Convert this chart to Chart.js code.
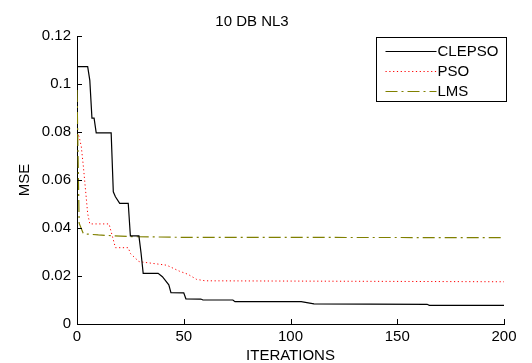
<!DOCTYPE html>
<html>
<head>
<meta charset="utf-8">
<script src="https://cdn.jsdelivr.net/npm/chart.js@4.4.0/dist/chart.umd.min.js"></script>
<style>
  html, body { margin: 0; padding: 0; background: #fff; }
</style>
</head>
<body>
<canvas id="mseChart" width="532" height="363"></canvas>
<script>
// values (iteration -> MSE), vertices of each curve
const clepsoIter = [0, 5, 6, 7, 8, 9, 16, 17, 18, 20, 24, 25, 29, 30, 31, 38, 40, 43, 44, 50, 51, 58, 59, 73, 74, 105, 111, 164, 165, 200];
const clepsoMse = [0.1072, 0.1072, 0.1015, 0.0858, 0.0858, 0.0796, 0.0796, 0.0551, 0.053, 0.0503, 0.0503, 0.0367, 0.0367, 0.0296, 0.0211, 0.0211, 0.0197, 0.0163, 0.0131, 0.013, 0.0105, 0.0104, 0.01, 0.01, 0.0093, 0.0093, 0.0084, 0.0082, 0.0078, 0.0078];

const psoIter = [0, 1, 2, 3, 4, 5, 6, 15, 18, 24, 25, 29, 42, 48, 52, 56, 60, 200];
const psoMse = [0.08, 0.078, 0.074, 0.0655, 0.0558, 0.046, 0.0417, 0.0417, 0.0318, 0.0318, 0.0294, 0.026, 0.0245, 0.022, 0.0207, 0.0186, 0.018, 0.0176];

const lmsIter = [0, 1, 3, 10, 25, 50, 200];
const lmsMse = [0.0975, 0.042, 0.0376, 0.0371, 0.0364, 0.0361, 0.036];

const seriesNames = ["CLEPSO", "PSO", "LMS"];
const xTicks = [0, 50, 100, 150, 200];
const yTicks = [0, 0.02, 0.04, 0.06, 0.08, 0.1, 0.12];

const FONT = "'Liberation Sans', Arial, sans-serif";

function toPoints(xs, ys) {
  return xs.map((x, i) => ({ x: x, y: ys[i] }));
}

// matlab style: ticks pointing into the axes, legend box top right
const matlabAxes = {
  id: "matlabAxes",
  afterDatasetsDraw(chart) {
    const ctx = chart.ctx;
    const xs = chart.scales.x, ys = chart.scales.y;
    const area = chart.chartArea;
    ctx.save();
    ctx.strokeStyle = "#000";
    ctx.lineWidth = 1;
    ctx.beginPath();
    xTicks.forEach(v => {
      const px = Math.round(xs.getPixelForValue(v)) + 0.5;
      ctx.moveTo(px, area.bottom);
      ctx.lineTo(px, area.bottom - 5);
    });
    yTicks.forEach(v => {
      const py = Math.round(ys.getPixelForValue(v)) + 0.5;
      ctx.moveTo(area.left, py);
      ctx.lineTo(area.left + 5, py);
    });
    ctx.stroke();

    // legend
    const bx = Math.round(area.right) - 128 + 0.5;
    const by = Math.round(area.top) + 1 + 0.5;
    const bw = 130, bh = 64;
    ctx.fillStyle = "#fff";
    ctx.fillRect(bx, by, bw, bh);
    ctx.strokeStyle = "#000";
    ctx.lineWidth = 1;
    ctx.setLineDash([]);
    ctx.strokeRect(bx, by, bw, bh);
    ctx.font = "15px " + FONT;
    ctx.textBaseline = "middle";
    ctx.textAlign = "left";
    chart.data.datasets.forEach((ds, i) => {
      const ry = by + 13.5 + i * 20;
      ctx.strokeStyle = ds.borderColor;
      ctx.lineWidth = ds.borderWidth;
      ctx.setLineDash(ds.borderDash || []);
      ctx.beginPath();
      ctx.moveTo(bx + 9, Math.round(ry) + 0.5);
      ctx.lineTo(bx + 60, Math.round(ry) + 0.5);
      ctx.stroke();
      ctx.fillStyle = "#000";
      ctx.fillText(ds.label, bx + 61, ry + 1);
    });
    ctx.restore();
  }
};

const ctx = document.getElementById("mseChart").getContext("2d");
const chart = new Chart(ctx, {
  type: "line",
  data: {
    datasets: [
      {
        label: seriesNames[0],
        data: toPoints(clepsoIter, clepsoMse),
        borderColor: "#000000",
        borderWidth: 1.2,
        borderDash: [],
        pointRadius: 0,
        tension: 0
      },
      {
        label: seriesNames[1],
        data: toPoints(psoIter, psoMse),
        borderColor: "#ff0000",
        borderWidth: 1,
        borderDash: [1.2, 2.6],
        pointRadius: 0,
        tension: 0
      },
      {
        label: seriesNames[2],
        data: toPoints(lmsIter, lmsMse),
        borderColor: "#808000",
        borderWidth: 1.2,
        borderDash: [12, 4, 2, 4],
        pointRadius: 0,
        tension: 0
      }
    ]
  },
  options: {
    responsive: false,
    animation: false,
    layout: { padding: { left: 0, right: 28, top: 0, bottom: 0 } },
    plugins: {
      legend: { display: false },
      tooltip: { enabled: false },
      title: {
        display: true,
        text: "10 DB NL3",
        color: "#000",
        font: { family: FONT, size: 15, weight: "normal" },
        padding: { top: 13, bottom: 5 }
      }
    },
    scales: {
      x: {
        type: "linear",
        min: 0,
        max: 200,
        afterBuildTicks: s => { s.ticks = xTicks.map(v => ({ value: v })); },
        afterFit: s => { s.height = 39; },
        grid: { display: false, drawTicks: false },
        border: { display: true, color: "#000", width: 1 },
        ticks: {
          color: "#000",
          padding: 4,
          maxRotation: 0,
          font: { family: FONT, size: 15 }
        },
        title: {
          display: true,
          text: "ITERATIONS",
          color: "#000",
          font: { family: FONT, size: 15 },
          padding: { top: 1, bottom: -2 }
        }
      },
      y: {
        min: 0,
        max: 0.12,
        afterBuildTicks: s => { s.ticks = yTicks.map(v => ({ value: v })); },
        afterFit: s => { s.width = 77; },
        grid: { display: false, drawTicks: false },
        border: { display: true, color: "#000", width: 1 },
        ticks: {
          color: "#000",
          padding: 6,
          font: { family: FONT, size: 15 },
          callback: v => String(+v.toFixed(4))
        },
        title: {
          display: true,
          text: "MSE",
          color: "#000",
          font: { family: FONT, size: 15 },
          padding: { top: 16, bottom: 8 }
        }
      }
    }
  },
  plugins: [matlabAxes]
});
</script>
</body>
</html>
